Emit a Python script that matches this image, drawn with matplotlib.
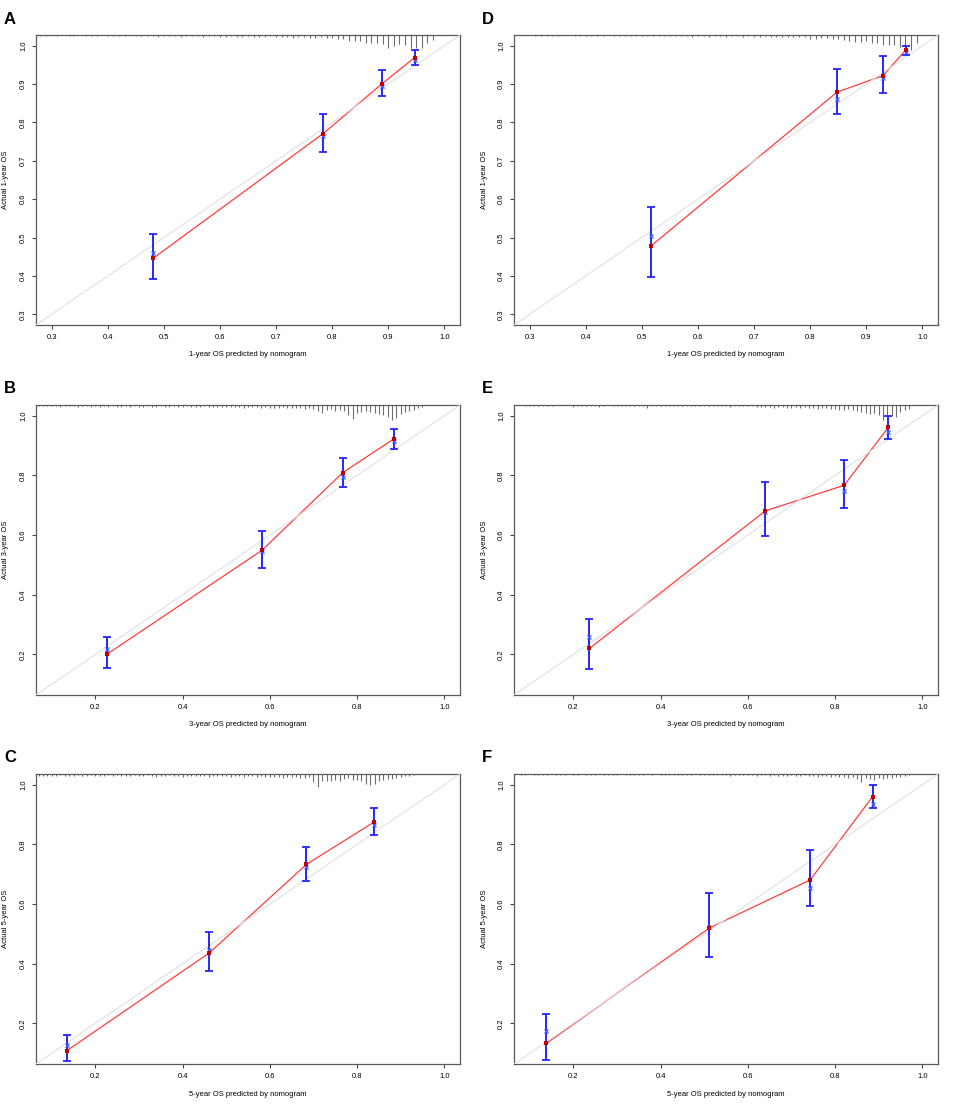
import matplotlib.pyplot as plt
import numpy as np

plt.rcParams['font.family'] = ['Liberation Sans', 'DejaVu Sans']

# Panel A: 1-year OS (left column)
a_pred = [0.481, 0.784, 0.889, 0.947]
a_obs = [0.446, 0.771, 0.901, 0.969]
a_corr = [0.459, 0.765, 0.896, 0.963]
a_lo = [0.391, 0.722, 0.868, 0.950]
a_hi = [0.508, 0.822, 0.938, 0.990]
a_rug_start = 0.28
a_rug = [1, 1, 0, 1, 0, 1, 1, 0, 1, 1, 1, 0, 1,
         1, 1, 1, 0, 1, 1, 1, 1, 2, 1,
         1, 1, 2, 1, 1, 1, 2, 1, 1, 2,
         2, 1, 2, 2, 1, 2, 2, 2, 1, 2,
         2, 2, 3, 2, 2, 3, 3, 2, 3, 3,
         4, 4, 6, 6, 6, 8, 8, 8, 9, 13,
         11, 9, 10, 13, 13, 13, 8, 5]

# Panel B: 3-year OS (left column)
b_pred = [0.227, 0.582, 0.767, 0.885]
b_obs = [0.201, 0.549, 0.809, 0.923]
b_corr = [0.219, 0.545, 0.796, 0.915]
b_lo = [0.156, 0.490, 0.762, 0.889]
b_hi = [0.259, 0.615, 0.860, 0.956]
b_rug_start = 0.07
b_rug = [1, 1, 1, 1, 1, 2, 1, 1, 1, 2, 1, 1, 2, 1,
         2, 1, 2, 1, 2, 2, 1, 2, 1, 2,
         2, 1, 2, 2, 1, 2, 2, 1, 2, 2,
         1, 2, 2, 2, 1, 2, 2, 2, 2, 2,
         2, 2, 2, 3, 2, 2, 2, 3, 2, 3,
         3, 3, 2, 3, 3, 3, 3, 4, 3, 4,
         6, 8, 5, 4, 6, 5, 6, 10, 14, 8,
         7, 6, 7, 8, 9, 10, 12, 15, 13, 9,
         7, 6, 5, 3, 2]

# Panel C: 5-year OS (left column)
c_pred = [0.134, 0.461, 0.684, 0.839]
c_obs = [0.108, 0.436, 0.733, 0.875]
c_corr = [0.127, 0.447, 0.724, 0.865]
c_lo = [0.073, 0.376, 0.677, 0.832]
c_hi = [0.160, 0.508, 0.793, 0.921]
c_rug_start = 0.07
c_rug = [2, 2, 2, 2, 2, 1, 2, 2, 2, 1, 2, 2, 1, 2,
         2, 2, 1, 2, 1, 2, 2, 2, 1, 2,
         2, 1, 2, 3, 2, 2, 1, 2, 2, 3,
         2, 2, 2, 2, 2, 3, 2, 2, 2, 2,
         3, 2, 2, 3, 2, 2, 3, 2, 3, 3,
         3, 3, 4, 3, 3, 3, 4, 4, 3, 8,
         13, 7, 7, 7, 6, 7, 5, 4, 6, 6,
         7, 10, 11, 10, 7, 6, 5, 5, 4, 3,
         2, 2, 1]

# Panel D: 1-year OS (right column)
d_pred = [0.517, 0.848, 0.930, 0.971]
d_obs = [0.479, 0.879, 0.922, 0.990]
d_corr = [0.505, 0.862, 0.915, 0.983]
d_lo = [0.396, 0.822, 0.876, 0.975]
d_hi = [0.580, 0.940, 0.972, 0.999]
d_rug_start = 0.31
d_rug = [1, 1, 1, 1, 1, 0, 0, 1, 1, 1,
         1, 1, 1, 0, 1, 1, 1, 1, 1, 1,
         1, 1, 1, 1, 1, 1, 1, 1, 2, 1,
         1, 2, 1, 1, 2, 1, 1, 2, 1, 2,
         2, 1, 2, 2, 2, 2, 2, 2, 2,
         4, 4, 3, 3, 4, 4, 5, 6, 7, 7,
         6, 8, 8, 10, 10, 10, 12, 12, 15, 8]

# Panel E: 3-year OS (right column)
e_pred = [0.237, 0.640, 0.821, 0.922]
e_obs = [0.220, 0.681, 0.767, 0.961]
e_corr = [0.257, 0.677, 0.749, 0.946]
e_lo = [0.152, 0.598, 0.692, 0.922]
e_hi = [0.320, 0.777, 0.853, 1.000]
e_rug_start = 0.09
e_rug = [1, 1, 1, 1, 1, 1, 1, 0, 0, 0, 0, 2,
         1, 1, 1, 1, 1, 2, 1, 0, 1, 1,
         1, 1, 1, 1, 1, 1, 3, 1, 1, 1,
         1, 1, 1, 1, 1, 1, 1, 1, 1, 1,
         1, 1, 1, 1, 1, 2, 1, 1, 1, 1,
         1, 2, 2, 2, 2, 3, 2, 2, 3, 3,
         2, 3, 2, 3, 3, 4, 3, 3, 4, 4,
         5, 5, 4, 5, 6, 7, 8, 9, 8, 10,
         15, 10, 11, 12, 7, 5, 4]

# Panel F: 5-year OS (right column)
f_pred = [0.138, 0.512, 0.743, 0.886]
f_obs = [0.133, 0.520, 0.681, 0.960]
f_corr = [0.173, 0.524, 0.654, 0.937]
f_lo = [0.076, 0.424, 0.594, 0.922]
f_hi = [0.230, 0.636, 0.781, 0.999]
f_rug_start = 0.08
f_rug = [1, 1, 0, 1, 1, 1, 1, 0, 1, 1, 1, 0, 1,
         1, 0, 1, 1, 1, 0, 1, 1, 1, 1,
         0, 1, 1, 1, 1, 1, 0, 1, 0, 1,
         1, 1, 1, 1, 1, 1, 1, 0, 1, 1,
         1, 1, 1, 1, 1, 2, 1, 1, 1, 1,
         1, 2, 1, 1, 2, 1, 2, 2, 2, 1,
         2, 2, 1, 2, 2, 3, 2, 2, 3, 2,
         3, 3, 4, 3, 5, 8, 4, 5, 6, 4,
         5, 4, 4, 3, 3, 2, 1]

RUG_BIN = 0.01
W, H = 957, 1109

fig = plt.figure(figsize=(W / 100, H / 100), dpi=100)


def draw_panel(left_px, top_px, label, year, low, step, pred, obs, corr, lo, hi, rug_start, rug):
    box_w, box_h = 424, 290
    ax = fig.add_axes([left_px / W, 1 - (top_px + box_h) / H, box_w / W, box_h / H])
    pad = 0.04 * (1.0 - low)
    lims = (low - pad, 1.0 + pad)
    ax.set_xlim(lims)
    ax.set_ylim(lims)

    pred = np.array(pred)
    obs = np.array(obs)
    lo = np.array(lo)
    hi = np.array(hi)

    # linea de referencia ideal
    ax.plot(lims, lims, color='#e0e0e0', lw=0.8, zorder=3)
    ax.plot(pred, obs, color='#ff3d3d', lw=0.9, zorder=2)
    ax.errorbar(pred, obs, yerr=[obs - lo, hi - obs], fmt='none', ecolor='#2626ff',
                elinewidth=1.4, capsize=2.8, capthick=1.3, zorder=4)
    ax.plot(pred, corr, 'x', color='#4060ff', ms=3, mew=0.9, zorder=5)
    ax.plot(pred, obs, 's', color='#c00000', ms=2.6, mew=0, zorder=6)

    # distribucion de predicciones arriba
    rug_x = rug_start + RUG_BIN * np.arange(len(rug))
    rug_len = np.array(rug) / box_h
    keep = rug_len > 0
    ax.vlines(rug_x[keep], 1 - rug_len[keep], 1, transform=ax.get_xaxis_transform(),
              color='#6e6e6e', lw=0.8, zorder=1)

    ticks = np.round(np.arange(low if step == 0.1 else 0.2, 1.0001, step), 2)
    ax.set_xticks(ticks)
    ax.set_yticks(ticks)
    ax.set_xticklabels([f'{t:.1f}' for t in ticks])
    ax.set_yticklabels([f'{t:.1f}' for t in ticks], rotation=90, va='center')
    ax.tick_params(length=3.2, width=0.8, pad=3.3, labelsize=5.5, color='#444444')
    for s in ax.spines.values():
        s.set_color('#5a5a5a')
        s.set_linewidth(0.9)

    ax.text(0.5, -30 / box_h, f'{year}-year OS predicted by nomogram', transform=ax.transAxes,
            ha='center', va='center', fontsize=5.5)
    ax.text(-30 / box_w, 0.5, f'Actual {year}-year OS', transform=ax.transAxes,
            ha='center', va='center', rotation=90, fontsize=5.5)
    fig.text((left_px - 32) / W, 1 - (top_px - 16) / H, label, fontsize=12,
             fontweight='bold', ha='left', va='center')


draw_panel(36, 35, 'A', 1, 0.3, 0.1, a_pred, a_obs, a_corr, a_lo, a_hi, a_rug_start, a_rug)
draw_panel(36, 405, 'B', 3, 0.1, 0.2, b_pred, b_obs, b_corr, b_lo, b_hi, b_rug_start, b_rug)
draw_panel(36, 774, 'C', 5, 0.1, 0.2, c_pred, c_obs, c_corr, c_lo, c_hi, c_rug_start, c_rug)
draw_panel(514, 35, 'D', 1, 0.3, 0.1, d_pred, d_obs, d_corr, d_lo, d_hi, d_rug_start, d_rug)
draw_panel(514, 405, 'E', 3, 0.1, 0.2, e_pred, e_obs, e_corr, e_lo, e_hi, e_rug_start, e_rug)
draw_panel(514, 774, 'F', 5, 0.1, 0.2, f_pred, f_obs, f_corr, f_lo, f_hi, f_rug_start, f_rug)

fig.savefig('out.png', dpi=100)
